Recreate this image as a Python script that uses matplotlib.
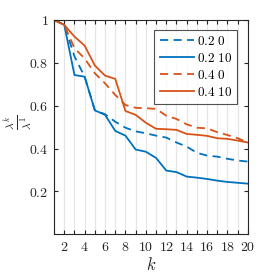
import matplotlib
matplotlib.use("Agg")
import matplotlib.pyplot as plt
from matplotlib.ticker import FixedLocator, FuncFormatter

plt.rcParams['mathtext.fontset'] = 'cm'
plt.rcParams['font.family'] = ['DejaVu Serif']

k = list(range(1, 21))
s02_0 = [1.0, 0.977, 0.83, 0.735, 0.578, 0.56, 0.525, 0.497, 0.48, 0.471,
         0.46, 0.451, 0.428, 0.409, 0.38, 0.367, 0.362, 0.352, 0.344, 0.339]
s02_10 = [1.0, 0.977, 0.743, 0.735, 0.578, 0.557, 0.482, 0.46, 0.395, 0.385,
          0.356, 0.297, 0.29, 0.269, 0.264, 0.258, 0.25, 0.244, 0.24, 0.236]
s04_0 = [1.0, 0.977, 0.868, 0.82, 0.751, 0.704, 0.65, 0.603, 0.59, 0.588,
         0.585, 0.553, 0.538, 0.513, 0.497, 0.494, 0.476, 0.463, 0.448, 0.428]
s04_10 = [1.0, 0.977, 0.922, 0.88, 0.787, 0.74, 0.725, 0.575, 0.557, 0.52,
          0.492, 0.49, 0.487, 0.468, 0.464, 0.459, 0.448, 0.445, 0.437, 0.428]
labels = [r'$0.2\ 0$', r'$0.2\ 10$', r'$0.4\ 0$', r'$0.4\ 10$']

blue = '#0072BD'
orange = '#D95319'

fig = plt.figure(figsize=(2.73, 2.73), dpi=100)
ax = fig.add_axes([0.198, 0.142, 0.71, 0.785])

lw = 1.3
dash = (0, (4.5, 3))
ax.plot(k, s02_0, color=blue, lw=lw, ls=dash, label=labels[0])
ax.plot(k, s02_10, color=blue, lw=lw, ls='-', label=labels[1])
ax.plot(k, s04_0, color=orange, lw=lw, ls=dash, label=labels[2])
ax.plot(k, s04_10, color=orange, lw=lw, ls='-', label=labels[3])

ax.set_xlim(1, 20)
ax.set_ylim(0, 1)
ax.xaxis.set_major_locator(FixedLocator(k))
ax.xaxis.set_major_formatter(FuncFormatter(lambda v, p: (r'$%d$' % v) if int(v) % 2 == 0 else ''))
ax.yaxis.set_major_locator(FixedLocator([0.2, 0.4, 0.6, 0.8, 1.0]))
ax.yaxis.set_major_formatter(FuncFormatter(lambda v, p: r'$1$' if v == 1 else r'$%.1f$' % v))
ax.tick_params(direction='in', length=3, width=0.8, top=True, right=True,
               labelsize=10, color='#262626', labelcolor='#262626', pad=4)
ax.grid(axis='x', color='#e6e6e6', lw=0.9)
ax.set_axisbelow(True)
for sp in ax.spines.values():
    sp.set_color('#262626')
    sp.set_linewidth(0.8)

ax.set_xlabel(r'$k$', fontsize=12, color='#262626', labelpad=2)
ax.set_ylabel(r'$\frac{\lambda^k}{\lambda^1}$', fontsize=12, color='#262626')
ax.yaxis.set_label_coords(-0.11, 0.52)

leg = ax.legend(loc='upper right', bbox_to_anchor=(0.945, 0.955), fontsize=9.5,
                frameon=True, fancybox=False, edgecolor='#262626',
                handlelength=2.6, handletextpad=0.2, labelspacing=0.3,
                borderpad=0.4, borderaxespad=0)
leg.get_frame().set_linewidth(0.8)

fig.savefig('out.png', dpi=100)
